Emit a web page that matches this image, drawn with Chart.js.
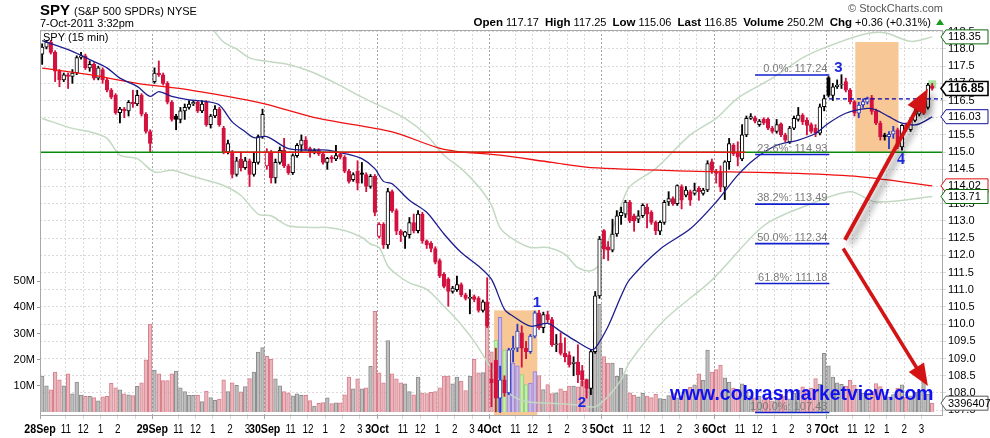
<!DOCTYPE html>
<html>
<head>
<meta charset="utf-8">
<title>SPY 15 min</title>
<script src="https://cdn.jsdelivr.net/npm/chart.js@4.4.0/dist/chart.umd.min.js"></script>
<style>
  html, body { margin: 0; padding: 0; background: #fff; }
  #wrap { width: 990px; height: 438px; }
</style>
</head>
<body>
<div id="wrap"><canvas id="spyChart" width="990" height="438"></canvas></div>
<script>
// SPY 15-minute bars, 28 Sep - 7 Oct 2011 (one line per session)
const dayLabels = ['28Sep', '29Sep', '30Sep', '3Oct', '4Oct', '5Oct', '6Oct', '7Oct'];
const hourLabels = ['11', '12', '1', '2', '3'];
const priceTicks = [107.5, 108.0, 108.5, 109.0, 109.5, 110.0, 110.5, 111.0, 111.5, 112.0, 112.5,
  113.0, 113.5, 114.0, 114.5, 115.0, 115.5, 116.0, 116.5, 117.0, 117.5, 118.0, 118.5];
const volumeTicks = [10, 20, 30, 40, 50];

const opens = [
  117.85,118.05,118.20,117.90,117.35,117.10,117.25,117.20,117.30,117.75,117.80,117.45,117.55,117.15,117.40,117.10,116.80,116.65,116.15,116.25,116.20,116.45,116.40,116.65,116.10,115.60,
  117.05,117.30,117.25,117.00,116.45,116.05,115.95,116.20,116.30,116.40,116.45,116.20,116.45,115.80,116.05,116.25,115.70,115.00,115.00,114.35,114.80,114.55,114.75,114.35,114.70,115.45,
  114.60,115.00,114.25,114.70,115.05,114.60,114.40,114.90,115.20,115.35,115.10,115.00,115.05,114.95,114.70,114.85,114.80,114.95,114.85,114.45,114.20,114.45,114.40,114.35,114.00,114.30,
  112.55,112.90,112.30,113.85,113.30,112.70,112.55,112.60,112.95,112.72,113.20,112.42,112.35,112.20,111.85,111.45,111.30,110.95,111.00,111.15,110.85,110.75,110.80,110.75,110.40,110.65,
  108.40,108.95,107.85,108.38,108.00,109.25,109.30,109.75,109.30,109.20,109.65,110.33,109.90,110.28,110.13,109.40,109.45,109.15,109.10,108.85,108.90,108.65,108.38,108.13,109.20,110.82,
  112.72,112.25,112.15,112.62,113.15,113.20,113.54,113.15,113.05,113.15,113.40,113.25,112.96,112.70,112.96,113.55,113.65,113.50,114.00,113.75,113.85,113.80,113.95,113.80,113.90,114.72,
  114.42,114.42,113.98,114.72,115.20,115.00,114.80,115.50,115.98,116.00,115.80,115.95,115.95,115.70,115.60,115.82,115.50,115.30,115.70,115.95,116.08,115.93,115.80,115.70,115.55,116.32,
  117.17,116.65,116.90,116.95,117.05,116.80,116.47,116.13,116.37,116.45,116.58,116.20,115.84,115.50,115.45,115.52,115.65,115.15,115.78,115.65,115.92,116.10,116.15,116.30,116.93
];
const highs = [
  118.15,118.25,118.25,117.95,117.40,117.30,117.30,117.40,117.80,117.90,117.85,117.65,117.60,117.50,117.45,117.15,116.85,116.70,116.30,116.30,116.50,116.80,116.80,116.70,116.15,115.65,
  117.45,117.65,117.30,117.05,116.50,116.10,116.30,116.40,116.50,116.50,116.50,116.50,116.50,116.10,116.35,116.30,115.75,115.35,115.05,114.85,115.00,114.85,114.80,115.00,115.50,116.25,
  115.10,115.05,114.80,115.15,115.40,114.65,114.95,115.25,115.50,115.45,115.15,115.10,115.10,115.00,114.85,114.90,115.20,115.00,114.90,114.50,114.40,114.75,114.70,114.40,114.35,114.35,
  112.95,112.95,113.95,113.90,113.35,112.75,112.70,113.10,113.20,113.30,113.25,112.45,112.40,112.25,111.90,111.50,111.35,111.10,111.40,111.20,110.90,111.00,110.85,110.80,110.70,111.35,
  108.87,109.30,108.78,108.50,109.30,109.65,110.00,109.95,109.50,109.70,110.38,110.40,110.35,110.38,110.20,109.70,109.75,109.60,109.20,109.05,109.40,108.80,108.40,109.25,110.95,112.55,
  112.75,112.40,113.05,113.30,113.40,113.60,113.60,113.20,113.30,113.50,113.50,113.30,113.00,113.00,113.60,113.85,113.70,114.05,114.05,114.00,113.90,114.10,114.00,113.95,114.75,114.80,
  114.50,114.60,114.75,115.40,115.25,115.30,115.80,116.05,116.12,116.05,115.95,116.00,116.00,115.75,115.95,115.85,115.55,115.75,116.05,116.30,116.12,116.00,115.85,115.80,116.40,116.66,
  117.20,117.00,117.10,117.25,117.15,116.85,116.50,116.45,116.55,116.60,116.65,116.25,115.90,115.55,115.60,115.75,115.70,115.80,115.85,116.00,116.25,116.30,116.55,117.00,117.00
];
const lows = [
  117.55,118.00,117.85,117.05,116.90,117.05,116.85,117.00,117.25,117.70,117.40,117.35,117.10,117.10,117.00,116.75,116.55,116.10,115.85,116.00,116.05,116.30,116.35,116.05,115.55,115.00,
  117.00,117.20,116.95,116.40,115.90,115.65,115.85,115.95,116.25,116.35,116.15,116.15,115.75,115.70,116.00,115.75,114.95,114.95,114.25,114.30,114.45,114.50,114.00,114.30,114.65,115.40,
  114.50,114.10,114.10,114.65,114.55,114.35,114.35,114.85,115.00,115.05,114.85,114.95,114.90,114.65,114.50,114.70,114.75,114.80,114.40,114.10,114.15,113.90,114.10,113.85,113.95,113.15,
  112.50,112.20,112.20,113.25,112.60,112.40,112.20,112.50,112.65,112.65,112.35,112.20,112.10,111.75,111.35,111.05,110.52,110.90,110.95,110.80,110.70,110.30,110.65,110.35,110.35,109.90,
  107.60,107.45,107.43,107.90,107.95,108.90,109.20,108.75,109.00,109.15,109.60,109.85,109.75,110.05,109.35,109.20,109.10,108.90,108.75,108.50,108.30,108.20,107.85,107.95,109.15,110.75,
  111.90,111.85,112.10,112.55,112.90,113.10,112.95,112.70,112.95,113.10,112.80,112.90,112.60,112.60,112.90,113.45,113.45,113.45,113.35,113.70,113.45,113.75,113.60,113.75,113.85,114.38,
  114.10,113.85,113.62,114.50,114.90,114.60,114.75,115.45,115.95,115.85,115.75,115.80,115.65,115.55,115.55,115.45,115.30,115.25,115.65,115.90,115.80,115.50,115.55,115.45,115.50,116.20,
  116.60,116.50,116.85,116.85,116.75,116.40,116.05,116.00,116.30,116.40,116.10,115.80,115.35,115.35,115.10,115.40,115.10,115.06,115.60,115.60,115.88,116.05,116.10,116.25,116.80
];
const closes = [
  118.05,118.20,117.90,117.35,117.10,117.25,117.20,117.30,117.75,117.80,117.45,117.55,117.15,117.45,117.10,116.80,116.60,116.15,116.25,116.20,116.45,116.40,116.65,116.10,115.60,115.25,
  117.30,117.25,117.00,116.45,115.95,115.95,116.20,116.30,116.40,116.45,116.20,116.40,115.80,116.05,116.25,115.80,115.00,115.25,114.35,114.75,114.55,114.75,114.35,114.70,115.45,116.10,
  115.00,114.25,114.70,115.05,114.60,114.40,114.90,115.20,115.35,115.10,115.00,115.05,114.95,114.70,114.82,114.80,114.90,114.85,114.45,114.15,114.35,114.10,114.35,114.00,114.30,113.25,
  112.90,112.30,113.85,113.30,112.70,112.60,112.68,112.95,112.72,113.20,112.42,112.30,112.20,111.80,111.40,111.10,110.95,111.05,111.15,110.85,110.75,110.75,110.72,110.40,110.65,109.95,
  108.30,107.85,108.38,108.00,109.25,109.30,109.80,109.30,109.20,109.65,110.33,109.90,110.28,110.13,109.40,109.42,109.15,109.05,108.82,108.90,108.53,108.38,108.13,109.20,110.82,112.47,
  112.18,112.15,112.62,113.15,113.25,113.55,113.01,113.00,113.15,113.45,113.20,112.96,112.72,112.96,113.54,113.65,113.50,114.03,113.60,113.90,113.60,113.90,113.85,113.90,114.67,114.47,
  114.38,113.98,114.72,115.25,114.95,114.85,115.50,115.98,116.03,115.90,115.90,115.85,115.70,115.60,115.80,115.50,115.35,115.70,115.98,116.08,115.88,115.78,115.60,115.55,116.32,116.56,
  116.65,116.90,116.95,116.95,116.80,116.47,116.13,116.37,116.47,116.58,116.18,115.84,115.45,115.45,115.52,115.62,115.15,115.78,115.68,115.92,116.12,116.20,116.45,116.95,116.85
];
// volume, millions of shares
const volumes = [
  13.8,10.0,8.5,15.3,12.3,10.0,14.6,7.0,11.5,6.5,6.0,6.0,5.5,4.3,5.8,6.0,11.0,9.3,8.5,7.0,6.6,6.3,9.8,11.2,20.0,33.6,
  16.0,14.6,12.0,12.0,14.6,15.7,9.3,7.8,6.4,6.4,6.4,4.0,8.0,5.5,4.5,5.0,12.3,7.8,11.2,10.2,7.7,9.7,12.8,15.3,22.9,24.6,
  21.3,20.2,12.7,10.0,7.8,7.4,6.2,7.0,6.4,6.4,4.4,2.3,3.3,3.6,5.4,3.2,3.5,3.5,6.6,13.4,8.9,12.7,8.9,9.3,17.5,38.5,
  15.0,11.2,27.3,14.6,12.7,11.2,10.8,7.8,6.6,13.4,7.3,7.1,7.5,7.8,9.3,13.8,13.8,10.8,13.4,11.8,8.2,13.8,20.2,15.0,15.1,34.3,
  23.0,27.4,36.2,23.7,22.4,18.7,17.7,14.3,10.5,11.1,15.5,13.9,8.6,10.5,7.1,7.4,8.9,8.0,9.9,9.9,9.6,11.8,12.7,20.5,30.6,41.2,
  21.2,18.7,18.7,13.7,16.8,14.3,7.4,6.5,5.8,7.2,6.1,5.5,6.8,5.2,4.9,6.3,7.1,5.4,6.0,8.2,9.5,10.4,14.6,12.1,23.7,15.3,
  16.2,18.0,13.1,11.5,9.2,8.7,10.8,7.6,6.2,5.4,6.1,4.8,5.6,4.3,5.2,6.9,6.0,5.1,7.3,8.4,9.6,8.0,9.1,12.8,10.7,22.4,
  17.7,13.4,11.2,10.6,9.8,12.1,10.3,8.8,7.2,6.5,8.0,10.9,9.7,6.3,5.8,6.7,9.1,10.4,5.6,6.2,7.5,8.3,13.7,6.8,3.4
];

// overlays (bar index, value)
const sma20Bars = [0,7,11,15,18,22,25,27,30,34,38,41,44,47,49,52,57,62,66,70,74,77,79,81,85,89,93,97,101,104,107,109,113,117,120,123,127,128,131,134,136,143,150,156,161,165,170,175,179,182,186,191,193,196,199,202,204,206];
const sma20Values = [118.24,117.93,117.69,117.45,117.15,116.91,116.62,116.76,116.62,116.52,116.47,116.37,115.88,115.59,115.42,115.45,115.10,115.06,115.06,114.96,114.81,114.52,114.15,114.08,113.60,113.25,112.62,112.08,111.69,111.30,110.43,110.23,109.94,110.02,109.79,109.55,109.26,109.30,109.94,110.82,111.30,112.18,112.77,113.55,114.33,114.81,115.20,115.35,115.54,115.84,116.13,116.27,116.23,116.03,115.84,115.79,115.88,116.03];
const sma200Bars = [0,11,22,34,45,52,64,81,93,106,118,127,150,170,188,206];
const sma200Values = [117.44,117.25,117.00,116.81,116.57,116.39,115.98,115.59,115.08,114.91,114.70,114.55,114.45,114.40,114.30,114.02];
const bbUpperBars = [39,42,45,48,52,57,62,68,74,79,84,89,93,97,101,104,106,109,113,117,121,124,127,129,132,134,136,142,150,156,161,169,176,181,190,195,201,206];
const bbUpperValues = [118.65,118.20,118.00,117.74,117.64,117.55,117.35,117.00,116.60,116.30,115.98,115.49,114.91,114.52,114.00,113.45,112.80,112.47,112.23,112.23,112.03,111.64,111.55,111.74,112.77,113.45,114.00,114.52,115.50,115.98,116.57,117.15,117.74,118.03,118.42,118.47,118.22,118.35];
const bbLowerBars = [0,7,11,15,18,22,26,30,34,38,42,46,50,53,57,62,66,70,74,76,78,80,82,85,89,93,96,100,104,108,112,118,124,128,131,134,136,144,155,167,177,187,193,206];
const bbLowerValues = [115.98,115.69,115.59,115.40,114.91,114.81,114.42,114.47,114.33,114.18,114.03,113.74,113.20,113.15,112.86,112.81,112.81,112.72,112.52,112.33,112.23,111.69,111.45,111.20,111.01,110.52,110.13,109.50,108.70,108.00,107.75,107.70,107.65,107.60,107.90,108.38,108.90,110.12,111.28,112.86,113.45,113.85,113.55,113.71];

const fibLabels = ['0.0%', '23.6%', '38.2%', '50.0%', '61.8%', '100.0%'];
const fibPrices = [117.24, 114.93, 113.49, 112.34, 111.18, 107.43];
const tagValues = [118.35, 116.85, 116.03, 114.02, 113.71];
const supportLevel = 115.0;
const stopLevel = 116.55;
const quoteItems = [['Open', '117.17'], ['High', '117.25'], ['Low', '115.06'], ['Last', '116.85'], ['Volume', '250.2M'], ['Chg', '+0.36 (+0.31%)']];
const lastVolumeText = '3396407';

// ---- layout / styling (not data) ----
const SLOTS = 209;
const SANS = "'Liberation Sans', Arial, sans-serif";
const highlightBoxes = [
  { from: 104.6, to: 114.6, low: 106.0, high: 110.4, volume: true },
  { from: 188.2, to: 198.2, low: 115.0, high: 118.2, volume: false }
];

function inBox(i, forVolume) {
  return highlightBoxes.some(b => i >= Math.ceil(b.from) && i <= Math.floor(b.to) && (!forVolume || b.volume));
}

const candleStyle = closes.map((c, i) => {
  const prev = i > 0 ? closes[i - 1] : opens[i];
  const up = c >= prev;
  const hollow = c >= opens[i];
  let stroke = up ? '#000000' : '#d3123f';
  const fill = hollow ? '#ffffff' : stroke;
  if (hollow && up && inBox(i, false)) stroke = '#2b3cc0';
  return { stroke, fill, up };
});

const volFill = candleStyle.map((s, i) => inBox(i, true) ? (s.up ? '#cbb9ec' : '#c6eeae') : (s.up ? '#bebebe' : '#e8b6bc'));
const volBorder = candleStyle.map((s, i) => inBox(i, true) ? (s.up ? '#8e7ed8' : '#92cf7c') : (s.up ? '#8c8c8c' : '#d8808c'));

// x-axis ticks: session start + hours
const xTicks = [];
dayLabels.forEach((d, k) => {
  xTicks.push({ value: k * 26 - 0.5, label: d, day: true, show: true });
  // the first session's 3pm label is hidden by the next date on the original
  hourLabels.forEach((h, j) => xTicks.push({ value: k * 26 + 5.5 + 4 * j, label: h, day: false, show: !(k === 0 && j === 4) }));
});

function pts(bars, vals) { return bars.map((b, k) => ({ x: b, y: vals[k] })); }

function hline(ctx, x0, x1, yv, color, w) {
  ctx.beginPath();
  ctx.strokeStyle = color;
  ctx.lineWidth = w;
  ctx.moveTo(x0, yv);
  ctx.lineTo(x1, yv);
  ctx.stroke();
}

function arrow(ctx, x0, y0, x1, y1, w, head, half) {
  const ang = Math.atan2(y1 - y0, x1 - x0);
  const bx = x1 - head * Math.cos(ang), by = y1 - head * Math.sin(ang);
  ctx.beginPath();
  ctx.lineWidth = w;
  ctx.moveTo(x0, y0);
  ctx.lineTo(bx + Math.cos(ang) * 2, by + Math.sin(ang) * 2);
  ctx.stroke();
  ctx.beginPath();
  ctx.moveTo(x1, y1);
  ctx.lineTo(bx + half * Math.sin(ang), by - half * Math.cos(ang));
  ctx.lineTo(bx - half * Math.sin(ang), by + half * Math.cos(ang));
  ctx.closePath();
  ctx.fill();
}

function tag(ctx, yv, text, color, bold) {
  const x0 = 941, x1 = 946, x2 = 988, h = 7;
  ctx.beginPath();
  ctx.moveTo(x0, yv);
  ctx.lineTo(x1, yv - h);
  ctx.lineTo(x2, yv - h);
  ctx.lineTo(x2, yv + h);
  ctx.lineTo(x1, yv + h);
  ctx.closePath();
  ctx.fillStyle = '#fff';
  ctx.fill();
  ctx.lineWidth = bold ? 1.6 : 1;
  ctx.strokeStyle = color;
  ctx.stroke();
  ctx.fillStyle = '#000';
  ctx.font = (bold ? 'bold 12px ' : '11px ') + SANS;
  ctx.textAlign = 'left';
  ctx.textBaseline = 'middle';
  ctx.fillText(text, 948, yv + 0.5);
}

// condensed text (the original uses a narrow face)
function narrowText(ctx, text, cx, baseline, font, squeeze) {
  ctx.save();
  ctx.font = font;
  ctx.translate(cx, baseline);
  ctx.scale(squeeze, 1);
  ctx.textAlign = 'center';
  ctx.textBaseline = 'alphabetic';
  ctx.fillText(text, 0, 0);
  ctx.restore();
}

const spyOverlay = {
  id: 'spyOverlay',
  beforeDatasetsDraw(chart) {
    const { ctx, chartArea: a, scales: { x, y } } = chart;
    ctx.save();
    ctx.beginPath();
    ctx.rect(a.left, a.top, a.width, a.height);
    ctx.clip();
    ctx.fillStyle = '#f8c796';
    highlightBoxes.forEach(b => {
      const x0 = x.getPixelForValue(b.from), x1 = x.getPixelForValue(b.to);
      const y0 = y.getPixelForValue(b.high), y1 = y.getPixelForValue(b.low);
      ctx.fillRect(x0, y0, x1 - x0, y1 - y0);
    });
    // last price marker
    const n = closes.length - 1;
    ctx.fillStyle = 'rgba(150,225,140,0.85)';
    ctx.fillRect(x.getPixelForValue(n) - 4, y.getPixelForValue(highs[n]) - 3, 8, 8);
    ctx.restore();
  },
  afterDatasetsDraw(chart) {
    const { ctx, chartArea: a, scales: { x, y } } = chart;
    const px = v => x.getPixelForValue(v), py = v => y.getPixelForValue(v);
    ctx.save();
    ctx.beginPath();
    ctx.rect(a.left, a.top, a.width, a.height);
    ctx.clip();

    // support line at 115 (green), with the red stretch over it
    hline(ctx, a.left, a.right, py(supportLevel), '#0b8a0b', 1.5);
    hline(ctx, px(41.9), px(162.7), py(supportLevel), '#f01414', 1.5);

    // dashed level from the 7 Oct open
    ctx.setLineDash([4, 3]);
    hline(ctx, px(182.1), a.right, py(stopLevel), '#0000b4', 1.3);
    ctx.setLineDash([]);

    // fibonacci retracement
    fibPrices.forEach((p, k) => {
      hline(ctx, px(165), px(182.2), py(p), '#1020cc', 1.6);
      ctx.font = '11px ' + SANS;
      ctx.fillStyle = '#7a7a7a';
      ctx.textAlign = 'right';
      ctx.textBaseline = 'alphabetic';
      ctx.fillText(fibLabels[k] + ': ' + p.toFixed(2), px(182.2) - 2, py(p) - 3);
    });

    // arrows
    ctx.strokeStyle = '#d41414';
    ctx.fillStyle = '#d41414';
    ctx.save();
    ctx.shadowColor = 'rgba(0,0,0,0.45)';
    ctx.shadowBlur = 7;
    ctx.shadowOffsetX = 5;
    ctx.shadowOffsetY = 4;
    arrow(ctx, px(185.8), py(112.45), px(205.0), py(116.84), 4, 24, 10);
    ctx.restore();
    ctx.strokeStyle = '#d41414';
    ctx.fillStyle = '#d41414';
    arrow(ctx, px(185.4), py(112.2), px(205.0), py(108.2), 3.5, 22, 9);

    // wave numbers
    ctx.fillStyle = '#1e28dc';
    ctx.textAlign = 'center';
    ctx.textBaseline = 'middle';
    ctx.font = 'bold 15px ' + SANS;
    ctx.fillText('1', px(114.5), py(110.62));
    ctx.fillText('2', px(124.9), py(107.71));
    ctx.fillText('3', px(184.3), py(117.45));
    ctx.font = "bold 16px 'Liberation Serif', serif";
    ctx.fillText('4', px(198.8), py(114.77));

    // watermark
    const wm = 'www.cobrasmarketview.com';
    ctx.font = 'bold 20px ' + SANS;
    const fs = 20 * 264 / ctx.measureText(wm).width;
    ctx.font = 'bold ' + fs.toFixed(1) + 'px ' + SANS;
    ctx.fillStyle = '#1010f0';
    ctx.textAlign = 'left';
    ctx.textBaseline = 'alphabetic';
    ctx.fillText(wm, px(145.3), py(107.8));

    ctx.restore();

    // title inside the plot
    ctx.font = '11px ' + SANS;
    ctx.fillStyle = '#000';
    ctx.textAlign = 'left';
    ctx.textBaseline = 'alphabetic';
    ctx.fillText('SPY (15 min)', a.left + 3, a.top + 11);

    // frame
    ctx.strokeStyle = '#a8a8a8';
    ctx.lineWidth = 1;
    ctx.strokeRect(a.left + 0.5, a.top + 0.5, a.width - 1, a.height - 1);
  },
  afterDraw(chart) {
    const { ctx, chartArea: a, scales: { x, y, yVol } } = chart;
    ctx.save();

    // time axis labels
    ctx.fillStyle = '#000';
    xTicks.forEach(t => {
      if (!t.show) return;
      const cx = x.getPixelForValue(t.value);
      if (t.day) narrowText(ctx, t.label, cx, a.bottom + 17, 'bold 13px ' + SANS, 0.82);
      else narrowText(ctx, t.label, cx, a.bottom + 17, '12px ' + SANS, 0.82);
    });

    // header
    ctx.textAlign = 'left';
    ctx.textBaseline = 'alphabetic';
    ctx.fillStyle = '#000';
    ctx.font = 'bold 15px ' + SANS;
    ctx.fillText('SPY', 40, 15);
    const w = ctx.measureText('SPY').width;
    ctx.font = '11px ' + SANS;
    ctx.fillText('(S&P 500 SPDRs) NYSE', 40 + w + 4, 15);
    ctx.fillText('7-Oct-2011 3:32pm', 40, 27);

    ctx.fillStyle = '#555';
    ctx.textAlign = 'right';
    ctx.fillText('\u00A9 StockCharts.com', a.right, 12);

    // quote line, right aligned to the plot edge
    const parts = [];
    quoteItems.forEach(([lab, val], k) => {
      parts.push({ t: lab, f: 'bold 11.5px ' + SANS });
      parts.push({ t: ' ' + val + (k < quoteItems.length - 1 ? '  ' : ' '), f: '11px ' + SANS });
    });
    let total = 0;
    parts.forEach(p => { ctx.font = p.f; p.w = ctx.measureText(p.t).width; total += p.w; });
    let cx = a.right - 9 - total;
    ctx.textAlign = 'left';
    ctx.fillStyle = '#000';
    parts.forEach(p => { ctx.font = p.f; ctx.fillText(p.t, cx, 26); cx += p.w; });
    ctx.fillStyle = '#1a9a1a';
    ctx.beginPath();
    ctx.moveTo(a.right - 7, 25);
    ctx.lineTo(a.right - 3, 19);
    ctx.lineTo(a.right + 1, 25);
    ctx.closePath();
    ctx.fill();

    // right-axis value tags
    const tagColors = ['#0a6a0a', '#000000', '#10109a', '#e01010', '#0a6a0a'];
    tagValues.forEach((v, k) => tag(ctx, y.getPixelForValue(v), v.toFixed(2), tagColors[k], k === 1));
    tag(ctx, yVol.getPixelForValue(volumes[volumes.length - 1]), lastVolumeText, '#555', false);
    ctx.restore();
  }
};

const ctx = document.getElementById('spyChart').getContext('2d');
new Chart(ctx, {
  type: 'bar',
  data: {
    datasets: [
      {
        type: 'line', label: 'SMA(20)', data: pts(sma20Bars, sma20Values), yAxisID: 'y',
        borderColor: '#1c1c8e', borderWidth: 1.3, pointRadius: 0, tension: 0.3, order: 1
      },
      {
        type: 'line', label: 'SMA(200)', data: pts(sma200Bars, sma200Values), yAxisID: 'y',
        borderColor: '#f01010', borderWidth: 1.3, pointRadius: 0, tension: 0.3, order: 2
      },
      {
        type: 'bar', label: 'Body', yAxisID: 'y',
        data: opens.map((o, i) => ({ x: i, y: [o, closes[i]] })),
        backgroundColor: candleStyle.map(s => s.fill), borderColor: candleStyle.map(s => s.stroke),
        borderWidth: 1, borderSkipped: false, barThickness: 3.6, minBarLength: 1, grouped: false, order: 3
      },
      {
        type: 'bar', label: 'Wick', yAxisID: 'y',
        data: lows.map((l, i) => ({ x: i, y: [l, highs[i]] })),
        backgroundColor: candleStyle.map(s => s.stroke), borderWidth: 0,
        barThickness: 1.2, grouped: false, order: 4
      },
      {
        type: 'line', label: 'BB upper', data: pts(bbUpperBars, bbUpperValues), yAxisID: 'y',
        borderColor: '#c3d9c3', borderWidth: 1.5, pointRadius: 0, tension: 0.3, order: 5
      },
      {
        type: 'line', label: 'BB lower', data: pts(bbLowerBars, bbLowerValues), yAxisID: 'y',
        borderColor: '#c3d9c3', borderWidth: 1.5, pointRadius: 0, tension: 0.3, order: 5
      },
      {
        type: 'bar', label: 'Volume', yAxisID: 'yVol',
        data: volumes.map((v, i) => ({ x: i, y: v })),
        backgroundColor: volFill, borderColor: volBorder, borderWidth: 1,
        barThickness: 3.7, grouped: false, order: 6
      }
    ]
  },
  options: {
    responsive: false,
    devicePixelRatio: 1,
    animation: false,
    events: [],
    layout: { padding: { top: 30, left: 0, right: 0, bottom: 0 } },
    plugins: { legend: { display: false }, tooltip: { enabled: false } },
    scales: {
      x: {
        type: 'linear', min: -0.5, max: SLOTS - 0.5, offset: false,
        afterBuildTicks: s => { s.ticks = xTicks.map(t => ({ value: t.value, day: t.day })); },
        afterFit: s => { s.height = 22; },
        ticks: { display: false, autoSkip: false, maxRotation: 0 },
        grid: {
          offset: false, tickLength: 3,
          color: c => (c.tick && c.tick.day) ? '#a4a4a4' : '#dadada'
        },
        border: { display: false, dash: [2, 2] }
      },
      y: {
        position: 'right', min: 107.33, max: 118.55,
        afterBuildTicks: s => { s.ticks = priceTicks.map(v => ({ value: v })); },
        afterFit: s => { s.width = 47; },
        ticks: { padding: 2, color: '#000', font: { family: SANS, size: 11 }, callback: v => v.toFixed(1) },
        grid: { color: '#dadada', tickLength: 3 },
        border: { display: false, dash: [2, 2] }
      },
      yVol: {
        position: 'left', min: -1.5, max: 146,
        afterBuildTicks: s => { s.ticks = volumeTicks.map(v => ({ value: v })); },
        afterFit: s => { s.width = 40; },
        ticks: { padding: 2, color: '#000', font: { family: SANS, size: 11 }, callback: v => v + 'M' },
        grid: { drawOnChartArea: false, tickLength: 3, color: '#999' },
        border: { display: false }
      }
    }
  },
  plugins: [spyOverlay]
});
</script>
</body>
</html>
